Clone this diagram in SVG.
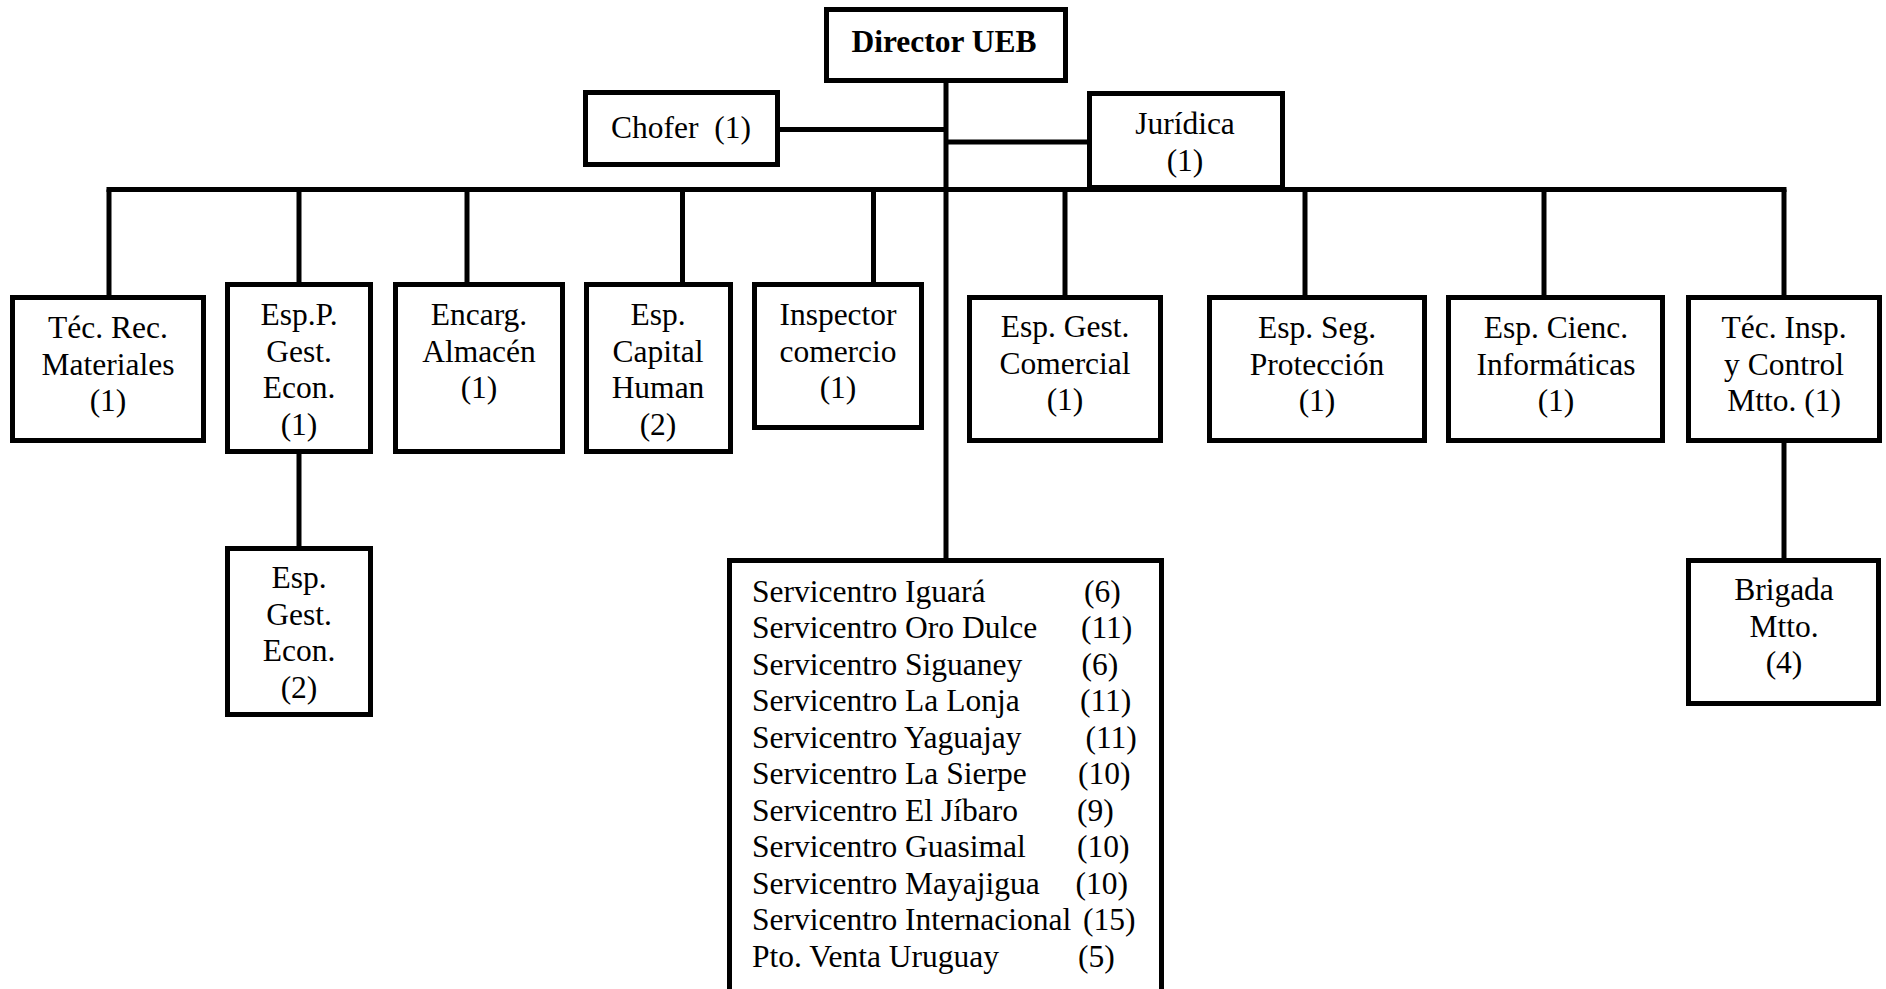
<svg xmlns="http://www.w3.org/2000/svg" width="1886" height="989" viewBox="0 0 1886 989">
<style>
.box{fill:#fff;stroke:#000;stroke-width:5}
.ln{stroke:#000;stroke-width:5;fill:none}
text{font-family:"Liberation Serif","Times New Roman",serif;font-size:31.5px;fill:#000}
.c{text-anchor:middle}
.b{font-weight:bold}
</style>
<rect width="1886" height="989" fill="#fff"/>
<g id="connectors">
<line class="ln" x1="946" y1="83" x2="946" y2="560"/>
<line class="ln" x1="780" y1="129.5" x2="946" y2="129.5"/>
<line class="ln" x1="946" y1="142" x2="1089" y2="142"/>
<line class="ln" x1="106.5" y1="189.5" x2="1786.5" y2="189.5"/>
<line class="ln" x1="109" y1="189.5" x2="109" y2="297"/>
<line class="ln" x1="299" y1="189.5" x2="299" y2="284"/>
<line class="ln" x1="467" y1="189.5" x2="467" y2="284"/>
<line class="ln" x1="682.5" y1="189.5" x2="682.5" y2="284"/>
<line class="ln" x1="873.5" y1="189.5" x2="873.5" y2="284"/>
<line class="ln" x1="1065" y1="189.5" x2="1065" y2="297"/>
<line class="ln" x1="1305" y1="189.5" x2="1305" y2="297"/>
<line class="ln" x1="1544" y1="189.5" x2="1544" y2="297"/>
<line class="ln" x1="1784" y1="189.5" x2="1784" y2="297"/>
<line class="ln" x1="299" y1="452" x2="299" y2="548"/>
<line class="ln" x1="1784" y1="441" x2="1784" y2="560"/>
</g>
<g id="director">
<rect class="box" x="826.5" y="9.5" width="239" height="71"/>
<text class="c b" x="944" y="52">Director UEB</text>
</g>
<g id="chofer">
<rect class="box" x="585.5" y="92.5" width="192" height="72"/>
<text class="c" x="681" y="138" xml:space="preserve">Chofer  (1)</text>
</g>
<g id="juridica">
<rect class="box" x="1089.5" y="93.5" width="193" height="94"/>
<text class="c" x="1185" y="133.5">Jurídica</text>
<text class="c" x="1185" y="170.5">(1)</text>
</g>
<g id="tec-rec">
<rect class="box" x="12.5" y="297.5" width="191" height="143"/>
<text class="c" x="108" y="338">Téc. Rec.</text>
<text class="c" x="108" y="374.5">Materiales</text>
<text class="c" x="108" y="411">(1)</text>
</g>
<g id="espp-gest">
<rect class="box" x="227.5" y="284.5" width="143" height="167"/>
<text class="c" x="299" y="325">Esp.P.</text>
<text class="c" x="299" y="361.5">Gest.</text>
<text class="c" x="299" y="398">Econ.</text>
<text class="c" x="299" y="434.5">(1)</text>
</g>
<g id="encarg">
<rect class="box" x="395.5" y="284.5" width="167" height="167"/>
<text class="c" x="479" y="325">Encarg.</text>
<text class="c" x="479" y="361.5">Almacén</text>
<text class="c" x="479" y="398">(1)</text>
</g>
<g id="capital">
<rect class="box" x="586.5" y="284.5" width="144" height="167"/>
<text class="c" x="658" y="325">Esp.</text>
<text class="c" x="658" y="361.5">Capital</text>
<text class="c" x="658" y="398">Human</text>
<text class="c" x="658" y="434.5">(2)</text>
</g>
<g id="inspector">
<rect class="box" x="754.5" y="284.5" width="167" height="143"/>
<text class="c" x="838" y="325">Inspector</text>
<text class="c" x="838" y="361.5">comercio</text>
<text class="c" x="838" y="398">(1)</text>
</g>
<g id="comercial">
<rect class="box" x="969.5" y="297.5" width="191" height="143"/>
<text class="c" x="1065" y="337">Esp. Gest.</text>
<text class="c" x="1065" y="373.5">Comercial</text>
<text class="c" x="1065" y="410">(1)</text>
</g>
<g id="seg">
<rect class="box" x="1209.5" y="297.5" width="215" height="143"/>
<text class="c" x="1317" y="338">Esp. Seg.</text>
<text class="c" x="1317" y="374.5">Protección</text>
<text class="c" x="1317" y="411">(1)</text>
</g>
<g id="cienc">
<rect class="box" x="1448.5" y="297.5" width="214" height="143"/>
<text class="c" x="1556" y="338">Esp. Cienc.</text>
<text class="c" x="1556" y="374.5">Informáticas</text>
<text class="c" x="1556" y="411">(1)</text>
</g>
<g id="tec-insp">
<rect class="box" x="1688.5" y="297.5" width="191" height="143"/>
<text class="c" x="1784" y="338">Téc. Insp.</text>
<text class="c" x="1784" y="374.5">y Control</text>
<text class="c" x="1784" y="411">Mtto. (1)</text>
</g>
<g id="gest-econ">
<rect class="box" x="227.5" y="548.5" width="143" height="166"/>
<text class="c" x="299" y="588">Esp.</text>
<text class="c" x="299" y="624.5">Gest.</text>
<text class="c" x="299" y="661">Econ.</text>
<text class="c" x="299" y="697.5">(2)</text>
</g>
<g id="brigada">
<rect class="box" x="1688.5" y="560.5" width="190" height="143"/>
<text class="c" x="1784" y="600">Brigada</text>
<text class="c" x="1784" y="636.5">Mtto.</text>
<text class="c" x="1784" y="673">(4)</text>
</g>
<g id="servicentros">
<rect class="box" x="729.5" y="560.5" width="432" height="440"/>
<text x="752" y="601.5">Servicentro Iguará</text><text x="1084" y="601.5">(6)</text>
<text x="752" y="638">Servicentro Oro Dulce</text><text x="1081" y="638">(11)</text>
<text x="752" y="674.5">Servicentro Siguaney</text><text x="1081.5" y="674.5">(6)</text>
<text x="752" y="711">Servicentro La Lonja</text><text x="1080" y="711">(11)</text>
<text x="752" y="747.5">Servicentro Yaguajay</text><text x="1085.5" y="747.5">(11)</text>
<text x="752" y="784">Servicentro La Sierpe</text><text x="1078" y="784">(10)</text>
<text x="752" y="820.5">Servicentro El Jíbaro</text><text x="1077" y="820.5">(9)</text>
<text x="752" y="857">Servicentro Guasimal</text><text x="1077" y="857">(10)</text>
<text x="752" y="893.5">Servicentro Mayajigua</text><text x="1075.5" y="893.5">(10)</text>
<text x="752" y="930">Servicentro Internacional</text><text x="1083" y="930">(15)</text>
<text x="752" y="966.5">Pto. Venta Uruguay</text><text x="1078" y="966.5">(5)</text>
</g>
</svg>
